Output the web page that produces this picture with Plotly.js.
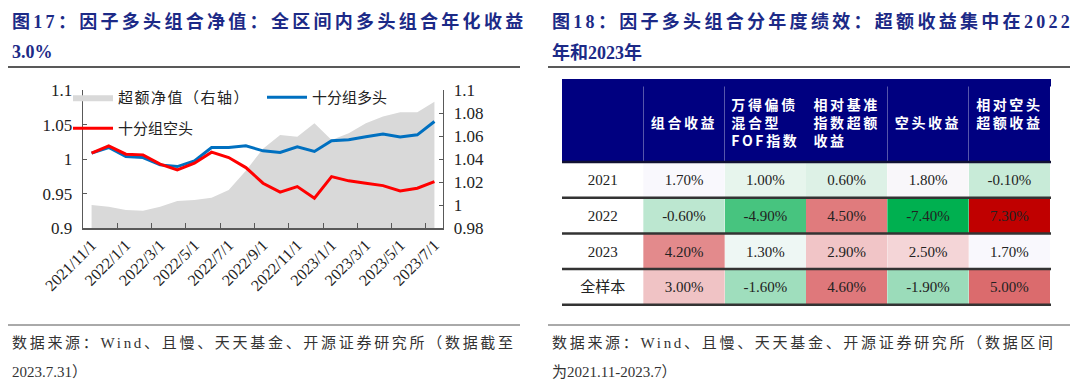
<!DOCTYPE html>
<html><head><meta charset="utf-8">
<script src="https://cdn.plot.ly/plotly-3.0.1.min.js"></script>
<style>
html,body{margin:0;padding:0;background:#fff;}
#chart{width:1080px;height:385px;}
g.annotation[data-index="0"] text, g.annotation[data-index="2"] text{letter-spacing:3.3px;}
g.annotation[data-index="4"] text, g.annotation[data-index="6"] text{letter-spacing:2.7px;}
g.legend text.legendtext{letter-spacing:1.5px;}
g.column-block#header text.cell-text{letter-spacing:2.6px;}
g.column-block#cells1 text.cell-text, g.column-block#cells2 text.cell-text{transform:translateY(4px);}
</style>
</head><body><div id="chart"></div>
<script>
// ---- left chart data ----
const dates = ['2021/11/1','2021/12/1','2022/1/1','2022/2/1','2022/3/1','2022/4/1','2022/5/1','2022/6/1','2022/7/1','2022/8/1','2022/9/1','2022/10/1','2022/11/1','2022/12/1','2023/1/1','2023/2/1','2023/3/1','2023/4/1','2023/5/1','2023/6/1','2023/7/1'];
const longNav = [1.0087,1.0168,1.0038,1.0023,0.9917,0.9893,0.9975,1.0168,1.0168,1.0193,1.0120,1.0096,1.0178,1.0111,1.0265,1.0280,1.0323,1.0362,1.0319,1.0352,1.0545];
const shortNav = [1.0087,1.0193,1.0072,1.0062,0.9928,0.9845,0.9942,1.0101,1.0023,0.9878,0.9652,0.9522,0.9603,0.9435,0.9748,0.9686,0.9652,0.9617,0.9541,0.9580,0.9675];
const excessNav = [1.0002,0.9988,0.9959,0.9953,0.9988,1.0037,1.0046,1.0066,1.0132,1.0300,1.0490,1.0610,1.0595,1.0711,1.0567,1.0625,1.0711,1.0769,1.0807,1.0807,1.0899];
const leftTickVals = [0.9,0.95,1,1.05,1.1];
const leftTickText = ['0.9','0.95','1','1.05','1.1'];
const rightTickVals = [0.98,1,1.02,1.04,1.06,1.08,1.1];
const rightTickText = ['0.98','1','1.02','1.04','1.06','1.08','1.1'];
const seriesNames = ['超额净值（右轴）','十分组多头','十分组空头'];

// ---- right table data ----
const tableHeaders = ['','\u00a0<br>组合收益','万得偏债<br>混合型<br>FOF指数','相对基准<br>指数超额<br>收益','\u00a0<br>空头收益','相对空头<br>超额收益'];
const periods = ['2021','2022','2023','全样本'];
const comboRet = [1.7,-0.6,4.2,3.0];
const fofIndex = [1.0,-4.9,1.3,-1.6];
const benchExcess = [0.6,4.5,2.9,4.6];
const shortRet = [1.8,-7.4,2.5,-1.9];
const shortExcess = [-0.1,7.3,1.7,5.0];

const cellColors = [
  ['#FFFFFF','#FFFFFF','#FFFFFF','#FFFFFF'],
  ['#F9F8FD','#BCE7D0','#E38A8C','#F0C3C5'],
  ['#E7F5ED','#47C47F','#EEF7F4','#9FDEBD'],
  ['#DDF1E6','#E07B7D','#F1C5C7','#DF787B'],
  ['#F9F7FA','#00B050','#F4D5D7','#9BDCBA'],
  ['#C8EBD8','#C00000','#F9F8FD','#DB6B6D']
];

const W = 1080, H = 385;
const px = x => x / W;
const py = y => 1 - y / H;
const SERIF = '"Liberation Serif","Times New Roman","Noto Sans CJK SC",serif';
const CJK = '"Noto Sans CJK SC","Liberation Serif",sans-serif';
const NAVY = '#1c2a87';
const HEADBG = '#000080';
const AXC = '#595959';
const pct = a => a.map(v => v.toFixed(2) + '%');

const traces = [
  {type:'scatter', mode:'lines', x:dates, y:excessNav, name:seriesNames[0], yaxis:'y', xaxis:'x',
   fill:'tozeroy', fillcolor:'#D9D9D9', line:{width:0,color:'#D9D9D9'}, legend:'legend', hoverinfo:'skip'},
  {type:'scatter', mode:'lines', x:dates, y:longNav, name:seriesNames[1], yaxis:'y2', xaxis:'x',
   line:{width:3,color:'#0070C0'}, legend:'legend2'},
  {type:'scatter', mode:'lines', x:dates, y:shortNav, name:seriesNames[2], yaxis:'y2', xaxis:'x',
   line:{width:3,color:'#FF0000'}, legend:'legend3'},
  {type:'table', domain:{x:[px(562),px(1051)], y:[py(312),py(86)]},
   columnwidth:[1,1,1,1,1,1],
   header:{values:tableHeaders, fill:{color:HEADBG}, align:'center', height:76,
     font:{family:CJK,size:14,color:'#ffffff',weight:'bold'}, line:{width:0,color:HEADBG}},
   cells:{values:[periods,pct(comboRet),pct(fofIndex),pct(benchExcess),pct(shortRet),pct(shortExcess)],
     fill:{color:cellColors}, align:'center', height:35.7,
     font:{family:SERIF,size:15,color:'#222'}, line:{width:0,color:'#ffffff'}}}
];

const legendBase = {xanchor:'left', yanchor:'top', bgcolor:'rgba(0,0,0,0)', borderwidth:0,
  font:{family:CJK,size:15,color:'#222'}, itemwidth:40, orientation:'v'};

const hline = (x0,x1,y,color,width) => ({type:'line', xref:'paper', yref:'paper',
  x0:px(x0), x1:px(x1), y0:py(y), y1:py(y), line:{color:color,width:width}});

const shapes = [
  {type:'rect', xref:'paper', yref:'paper', x0:px(562), x1:px(1051), y0:py(86.6), y1:py(79),
   fillcolor:HEADBG, line:{width:0}},
  hline(8,520,67,'#222',1.5), hline(548,1070,67,'#222',1.5),
  hline(8,520,325,'#555',1), hline(548,1070,325,'#555',1),
  hline(562,1051,162,'#111133',2.5),
  hline(562,1051,197.7,'#333',2.5), hline(562,1051,233.4,'#333',2.5),
  hline(562,1051,269.1,'#333',2.5), hline(562,1051,304.8,'#333',2.5)
];

const ann = (text,x,y,font) => ({text:text, xref:'paper', yref:'paper', x:px(x), y:py(y),
  xanchor:'left', yanchor:'middle', showarrow:false, font:font, align:'left'});
const titleFont = {family:SERIF, size:18, color:NAVY, weight:'bold'};
const srcFont = {family:SERIF, size:15, color:'#333'};

const annotations = [
  ann('图17：因子多头组合净值：全区间内多头组合年化收益',10,21,titleFont),
  ann('3.0%',10,52,titleFont),
  ann('图18：因子多头组合分年度绩效：超额收益集中在2022',550,21,titleFont),
  ann('年和2023年',550,52,titleFont),
  ann('数据来源：Wind、且慢、天天基金、开源证券研究所（数据截至',10,343,srcFont),
  ann('2023.7.31）',10,372,srcFont),
  ann('数据来源：Wind、且慢、天天基金、开源证券研究所（数据区间',550,343,srcFont),
  ann('为2021.11-2023.7）',550,372,srcFont)
];

const layout = {
  width:W, height:H, margin:{l:0,r:0,t:0,b:0}, paper_bgcolor:'#fff', plot_bgcolor:'rgba(0,0,0,0)',
  showlegend:true,
  xaxis:{domain:[px(83),px(443)], type:'category', tickmode:'linear', tick0:0, dtick:2,
    tickson:'boundaries', ticks:'inside', ticklen:5, tickcolor:AXC, tickwidth:1,
    showline:true, linecolor:AXC, linewidth:1.3, tickangle:-45, showgrid:false, zeroline:false,
    tickfont:{family:SERIF,size:16,color:'#222'}, range:[-0.5,20.5], anchor:'y', fixedrange:true},
  yaxis:{domain:[py(228.3),py(90)], side:'right', anchor:'x', range:[0.98,1.1],
    tickmode:'array', tickvals:rightTickVals, ticktext:rightTickText,
    ticks:'inside', ticklen:4, tickcolor:AXC, showline:true, linecolor:AXC, linewidth:1.3,
    showgrid:false, zeroline:false, ticklabelstandoff:6,
    tickfont:{family:SERIF,size:17,color:'#222'}, fixedrange:true},
  yaxis2:{domain:[py(228.3),py(90)], overlaying:'y', side:'left', anchor:'x', range:[0.9,1.1],
    tickmode:'array', tickvals:leftTickVals, ticktext:leftTickText,
    ticks:'inside', ticklen:4, tickcolor:AXC, showline:true, linecolor:AXC, linewidth:1.3,
    showgrid:false, zeroline:false, ticklabelstandoff:6,
    tickfont:{family:SERIF,size:17,color:'#222'}, fixedrange:true},
  legend:Object.assign({}, legendBase, {x:px(68), y:py(81)}),
  legend2:Object.assign({}, legendBase, {x:px(262), y:py(81)}),
  legend3:Object.assign({}, legendBase, {x:px(68), y:py(112)}),
  shapes:shapes, annotations:annotations
};

Plotly.newPlot('chart', traces, layout, {displayModeBar:false, staticPlot:true});
</script>
</body></html>
